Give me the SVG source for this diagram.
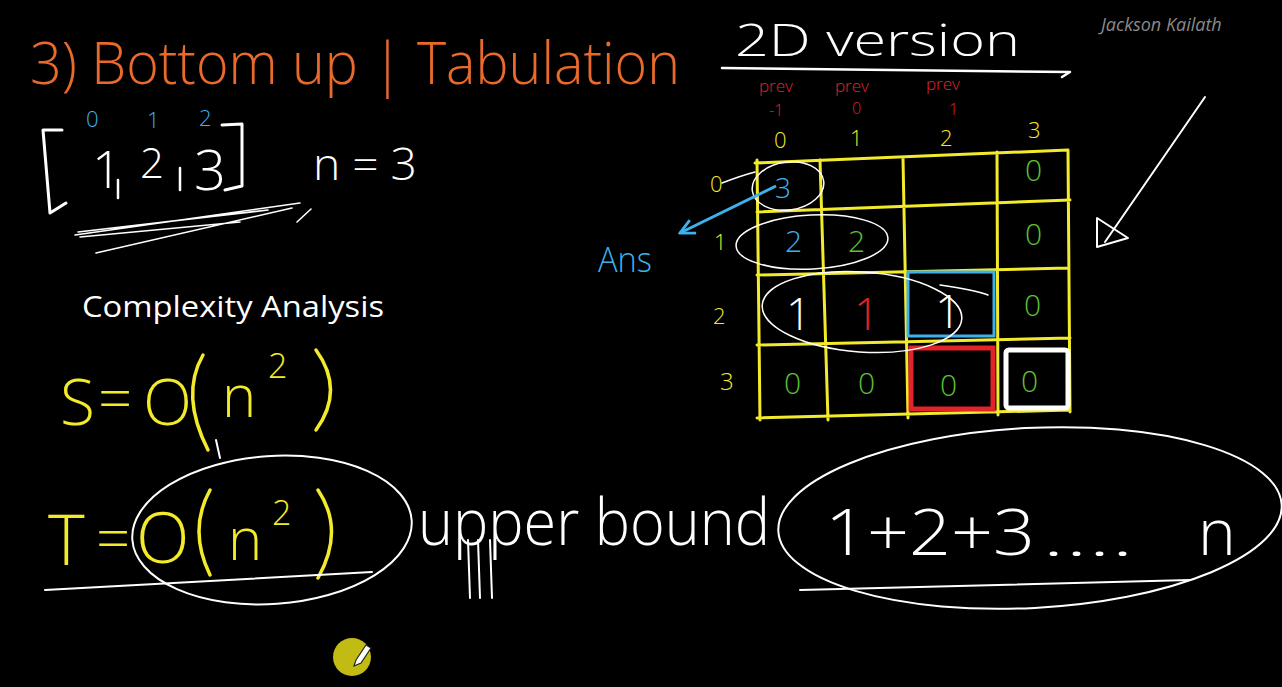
<svg xmlns="http://www.w3.org/2000/svg" width="1282" height="687" viewBox="0 0 1282 687">
<style>
.hw{font-family:"Open Sans","Liberation Sans",sans-serif;font-weight:300}
.w{fill:#ffffff}.y{fill:#f2ea2a}.b{fill:#3fb0ec}.g{fill:#5ec032}.r{fill:#e0242a}.o{fill:#ea6a2c}
.sw{fill:none;stroke:#ffffff;stroke-linecap:round;stroke-linejoin:round}
.grid{fill:none;stroke:#f2ea2a;stroke-width:3;stroke-linecap:round}
</style>
<defs>
<marker id="blueHead" viewBox="0 0 10 10" refX="9" refY="5" markerWidth="6" markerHeight="6" orient="auto"><path d="M1,1 L9,5 L1,9" fill="none" stroke="#3fb0ec" stroke-width="1.6"/></marker>
</defs>
<rect width="1282" height="687" fill="#000"/>

<!-- title -->
<text class="hw o" x="30" y="84" font-size="58" textLength="650" lengthAdjust="spacingAndGlyphs">3) Bottom up | Tabulation</text>
<text class="hw w" x="735" y="56" font-size="44" textLength="285" lengthAdjust="spacingAndGlyphs">2D version</text>
<path class="sw" stroke-width="2.5" d="M722,68 L1070,72 L1062,77"/>
<text x="1101" y="31" font-family="Open Sans, Liberation Sans, sans-serif" font-style="italic" font-size="18" fill="#8a8a8a">Jackson Kailath</text>

<!-- array -->
<g id="array">
<path class="sw" stroke-width="3" d="M62,130 L43,130 L50,213 L66,203"/>
<path class="sw" stroke-width="3" d="M222,125 L242,124 L242,186 L225,190"/>
<text class="hw w" x="92" y="188" font-size="52">1</text>
<path class="sw" stroke-width="2.5" d="M118,180 L118,198"/>
<text class="hw w" x="140" y="178" font-size="42">2</text>
<path class="sw" stroke-width="2.5" d="M180,168 L180,190"/>
<text class="hw w" x="194" y="190" font-size="56">3</text>
<text class="hw b" x="86" y="127" font-size="22">0</text>
<text class="hw b" x="147" y="128" font-size="22">1</text>
<text class="hw b" x="199" y="126" font-size="22">2</text>
<text class="hw w" x="313" y="180" font-size="44" textLength="104" lengthAdjust="spacingAndGlyphs">n = 3</text>
<path class="sw" stroke-width="1.6" d="M75,235 L300,203 M78,232 L268,210 M96,253 L292,208 M297,222 L311,209 M80,237 L240,222"/>
</g>

<!-- complexity -->
<text x="82" y="317" font-family="Open Sans, Liberation Sans, sans-serif" font-size="29" fill="#fff" textLength="302" lengthAdjust="spacingAndGlyphs">Complexity Analysis</text>
<g id="spaceComplexity">
<text class="hw y" x="60" y="425" font-size="64">S</text>
<text class="hw y" x="98" y="420" font-size="60">=</text>
<text class="hw y" x="143" y="425" font-size="64">O</text>
<path d="M203,355 Q180,395 208,450" fill="none" stroke="#f2ea2a" stroke-width="3.5" stroke-linecap="round"/>
<text class="hw y" x="222" y="417" font-size="58">n</text>
<text class="hw y" x="268" y="378" font-size="34">2</text>
<path d="M316,350 Q345,390 316,430" fill="none" stroke="#f2ea2a" stroke-width="3.5" stroke-linecap="round"/>
<path class="sw" stroke-width="2" d="M216,440 L220,458"/>
</g>
<g id="timeComplexity">
<text class="hw y" x="48" y="565" font-size="70">T</text>
<text class="hw y" x="96" y="560" font-size="60">=</text>
<text class="hw y" x="136" y="563" font-size="70">O</text>
<path d="M210,490 Q188,530 210,575" fill="none" stroke="#f2ea2a" stroke-width="3.5" stroke-linecap="round"/>
<text class="hw y" x="228" y="560" font-size="58">n</text>
<text class="hw y" x="272" y="525" font-size="34">2</text>
<path d="M318,490 Q345,530 318,578" fill="none" stroke="#f2ea2a" stroke-width="3.5" stroke-linecap="round"/>
<ellipse class="sw" stroke-width="2" cx="272" cy="530" rx="140" ry="74" transform="rotate(-4 272 530)"/>
<path class="sw" stroke-width="2" d="M45,590 L372,572"/>
<text class="hw w" x="418" y="545" font-size="64" textLength="352" lengthAdjust="spacingAndGlyphs">upper bound</text>
<path class="sw" stroke-width="2" d="M468,540 L470,598 M478,540 L480,598 M490,540 L492,598"/>
<text class="hw w" x="825" y="555" font-size="64" textLength="210" lengthAdjust="spacingAndGlyphs">1+2+3</text>
<text class="hw w" x="1042" y="556" font-size="50" textLength="92" lengthAdjust="spacingAndGlyphs">....</text>
<text class="hw w" x="1198" y="555" font-size="64">n</text>
<ellipse class="sw" stroke-width="2" cx="1030" cy="518" rx="252" ry="90" transform="rotate(-3 1030 518)"/>
<path class="sw" stroke-width="2" d="M800,590 L1190,580"/>
</g>

<!-- 2D table -->
<g id="table">
<path class="grid" d="M755,163 L1068,150 M757,212 L1070,200 M757,275 L1068,268 M757,345 L1070,338 M757,418 L1070,410 M757,160 L760,420 M820,160 L828,420 M903,158 L908,418 M997,152 L998,415 M1068,150 L1070,412"/>
<text class="hw y" x="774" y="148" font-size="22">0</text>
<text class="hw y" x="850" y="146" font-size="22">1</text>
<text class="hw y" x="940" y="146" font-size="22">2</text>
<text class="hw y" x="1028" y="138" font-size="22">3</text>
<text class="hw y" x="710" y="192" font-size="22">0</text>
<text class="hw y" x="714" y="250" font-size="22">1</text>
<text class="hw y" x="713" y="324" font-size="22">2</text>
<text class="hw y" x="720" y="390" font-size="24">3</text>
<text class="hw r" x="759" y="92" font-size="17">prev</text>
<text class="hw r" x="769" y="116" font-size="16">-1</text>
<text class="hw r" x="835" y="92" font-size="17">prev</text>
<text class="hw r" x="852" y="114" font-size="16">0</text>
<text class="hw r" x="926" y="90" font-size="17">prev</text>
<text class="hw r" x="949" y="115" font-size="16">1</text>
<text class="hw b" x="775" y="198" font-size="28">3</text>
<text class="hw b" x="785" y="252" font-size="30">2</text>
<text class="hw g" x="848" y="252" font-size="30">2</text>
<text class="hw w" x="786" y="330" font-size="44">1</text>
<text class="hw r" x="854" y="330" font-size="44">1</text>
<text class="hw w" x="935" y="328" font-size="46" font-weight="bold">1</text>
<rect x="908" y="272" width="86" height="64" fill="none" stroke="#3fb0ec" stroke-width="3"/>
<rect x="911" y="348" width="82" height="61" fill="none" stroke="#e0242a" stroke-width="5"/>
<rect x="1006" y="350" width="62" height="58" fill="none" stroke="#fff" stroke-width="5" rx="3"/>
<text class="hw g" x="1025" y="181" font-size="30">0</text>
<text class="hw g" x="1025" y="245" font-size="30">0</text>
<text class="hw g" x="1024" y="316" font-size="30">0</text>
<text class="hw g" x="784" y="394" font-size="30">0</text>
<text class="hw g" x="858" y="394" font-size="30">0</text>
<text class="hw g" x="940" y="396" font-size="30">0</text>
<text class="hw g" x="1021" y="392" font-size="30">0</text>
<ellipse class="sw" stroke-width="1.5" cx="788" cy="186" rx="36" ry="24" transform="rotate(-8 788 186)"/>
<path class="sw" stroke-width="1.5" d="M722,183 Q740,176 755,172"/>
<ellipse class="sw" stroke-width="1.5" cx="812" cy="242" rx="76" ry="27" transform="rotate(-3 812 242)"/>
<ellipse class="sw" stroke-width="1.5" cx="862" cy="312" rx="100" ry="40" transform="rotate(4 862 312)"/>
<path class="sw" stroke-width="1.5" d="M940,285 Q975,290 988,295"/>
<path d="M776,186 L680,233" stroke="#3fb0ec" stroke-width="3" fill="none" marker-end="url(#blueHead)"/>
<text class="hw b" x="598" y="272" font-size="34" textLength="54" lengthAdjust="spacingAndGlyphs">Ans</text>
<path class="sw" stroke-width="2" d="M1205,97 L1105,242"/>
<path class="sw" stroke-width="2" d="M1097,218 L1097,247 L1128,238 Z"/>
</g>

<!-- pointer -->
<g id="pointer">
<circle cx="352" cy="657" r="19" fill="#c2bb14"/>
<path d="M356,660 L366,645 L371,648 L361,663 L354,666 Z" fill="#fff" stroke="#222" stroke-width="1.2"/>
</g>
</svg>
